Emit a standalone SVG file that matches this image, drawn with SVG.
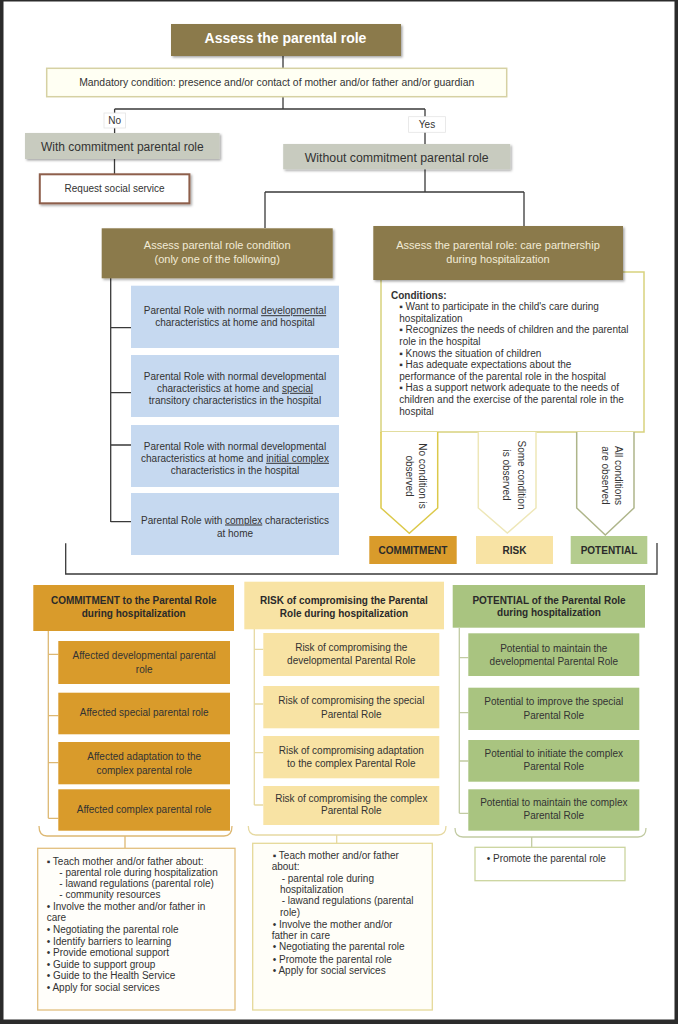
<svg xmlns="http://www.w3.org/2000/svg" width="678" height="1024" viewBox="0 0 678 1024">
<defs>
<style>
text { font-family: "Liberation Sans", Arial, sans-serif; fill: #333; font-size: 10px; }
.c { text-anchor: middle; }
.b { font-weight: bold; }
.hdr { fill: #8B7A4B; }
.hdrt { fill: #F2EBD6; font-size: 11px; }
.gray { fill: #C8CBBF; }
.blue { fill: #C6D9F0; }
.org { fill: #D99B2B; }
.yel { fill: #F8E3A4; }
.grn { fill: #A9C480; }
.ln { stroke: #3a3a3a; stroke-width: 1.3; fill: none; }
.lo { stroke: #DDB873; stroke-width: 1.3; fill: none; }
.ly { stroke: #E6D9A2; stroke-width: 1.3; fill: none; }
.lg { stroke: #C2CBA3; stroke-width: 1.3; fill: none; }
.u { text-decoration: underline; }
</style>
<filter id="sh" x="-10%" y="-10%" width="130%" height="140%">
<feDropShadow dx="1.5" dy="1.5" stdDeviation="1" flood-color="#000" flood-opacity="0.35"/>
</filter>
</defs>
<rect width="678" height="1024" fill="#fff"/>
<g id="frame" fill="#2b2b2b">
<rect x="0" y="0" width="678" height="1.5"/>
<rect x="0" y="0" width="3.5" height="1024"/>
<rect x="674.5" y="0" width="3.5" height="1024"/>
<rect x="0" y="1019.5" width="678" height="4.5"/>
</g>

<g id="connectors">
<path class="ln" d="M283,56 V68 M283,97 V109 M114.6,109 H425 M114.6,109 V133 M425,109 V144 M114.5,159 V174 M425,169 V192 M265,192 H524 M265,192 V228 M524,192 V226"/>
<path class="ln" d="M110.7,278 V522 M110.7,327.7 H131 M110.7,392.7 H131 M110.7,445 H131 M110.7,521.7 H131"/>
<path class="ln" d="M65.7,543.3 V574 H657 V543" stroke="#444"/>
<path class="lo" d="M48.3,631 V818.3 M48.3,654.3 H58.3 M48.3,715.7 H58.3 M48.3,762.7 H58.3 M48.3,818.3 H58.3"/>
<path class="ly" d="M254.3,629 V805 M254.3,649.3 H263.3 M254.3,704 H263.3 M254.3,752.7 H263.3 M254.3,805 H263.3"/>
<path class="lg" d="M459.3,628 V813.3 M459.3,657.7 H468.3 M459.3,712.7 H468.3 M459.3,761 H468.3 M459.3,813.3 H468.3"/>
<path class="lo" d="M39,826 Q39,836 47,836 H224 Q232,836 232,826 M125,836 V848.3"/>
<path class="ly" d="M248.3,826 Q248.3,835 256,835 H438 Q446,835 446,826 M336.7,835 V843.3"/>
<path class="lg" d="M455,828 Q455,837 463,837 H638 Q646,837 646,828 M531.7,837 V847.3"/>
</g>

<g id="n-assess">
<rect x="171" y="24" width="230" height="32" class="hdr" filter="url(#sh)"/>
<text x="285.5" y="42.5" class="c b" style="fill:#fff;font-size:14px">Assess the parental role</text>
</g>
<g id="n-mandatory">
<rect x="46.7" y="68.3" width="460" height="28.4" fill="#FFFFF3" stroke="#D6D1A3" stroke-width="1.5"/>
<text x="276.7" y="86.3" class="c" style="font-size:10.4px">Mandatory condition: presence and/or contact of mother and/or father and/or guardian</text>
</g>
<g id="l-no">
<rect x="104" y="113" width="21.4" height="15" fill="#fff" stroke="#E4E4E4" stroke-width="0.8"/>
<text x="114.6" y="123.5" class="c">No</text>
</g>
<g id="l-yes">
<rect x="408.6" y="116.7" width="36.8" height="15.6" fill="#fff" stroke="#E4E4E4" stroke-width="0.8"/>
<text x="427" y="128.3" class="c">Yes</text>
</g>
<g id="n-with">
<rect x="25" y="133" width="194.6" height="26" class="gray" filter="url(#sh)"/>
<text x="122.3" y="150.8" class="c" style="font-size:12px">With commitment parental role</text>
</g>
<g id="n-without">
<rect x="283.2" y="144" width="227" height="25.3" class="gray" filter="url(#sh)"/>
<text x="396.7" y="161.6" class="c" style="font-size:12.3px">Without commitment parental role</text>
</g>
<g id="n-request">
<rect x="39.8" y="174.3" width="149.6" height="29" fill="#fff" stroke="#8E5F4B" stroke-width="2" filter="url(#sh)"/>
<text x="114.6" y="191.5" class="c">Request social service</text>
</g>

<g id="n-assess-condition">
<rect x="101.7" y="228.3" width="231" height="50" class="hdr" filter="url(#sh)"/>
<text x="217.2" y="249" class="c hdrt">Assess parental role condition</text>
<text x="217.2" y="263.3" class="c hdrt">(only one of the following)</text>
</g>

<g id="n-blue1">
<rect x="131" y="285.7" width="208" height="62.3" class="blue"/>
<text x="235" y="314.2" class="c">Parental Role with normal <tspan class="u">developmental</tspan></text>
<text x="235" y="326.2" class="c">characteristics at home and hospital</text>
</g>
<g id="n-blue2">
<rect x="131" y="355" width="208" height="62" class="blue"/>
<text x="235" y="380.2" class="c">Parental Role with normal developmental</text>
<text x="235" y="391.8" class="c">characteristics at home and <tspan class="u">special</tspan></text>
<text x="235" y="403.5" class="c">transitory characteristics in the hospital</text>
</g>
<g id="n-blue3">
<rect x="131" y="425" width="208" height="62" class="blue"/>
<text x="235" y="450.2" class="c">Parental Role with normal developmental</text>
<text x="235" y="461.8" class="c">characteristics at home and <tspan class="u">initial complex</tspan></text>
<text x="235" y="473.5" class="c">characteristics in the hospital</text>
</g>
<g id="n-blue4">
<rect x="131" y="493" width="208" height="62" class="blue"/>
<text x="235" y="523.5" class="c">Parental Role with <tspan class="u">complex</tspan> characteristics</text>
<text x="235" y="536.8" class="c">at home</text>
</g>

<g id="n-conditions">
<rect x="381" y="272" width="263" height="160" fill="#fff" stroke="#D8D27E" stroke-width="1.5"/>
<text x="391" y="298.5" class="b">Conditions:</text>
<text x="399.3" y="310.1">▪ Want to participate in the child's care during</text>
<text x="399.3" y="321.7">hospitalization</text>
<text x="399.3" y="333.3">▪ Recognizes the needs of children and the parental</text>
<text x="399.3" y="344.9">role in the hospital</text>
<text x="399.3" y="356.5">▪ Knows the situation of children</text>
<text x="399.3" y="368.1">▪ Has adequate expectations about the</text>
<text x="399.3" y="379.7">performance of the parental role in the hospital</text>
<text x="399.3" y="391.3">▪ Has a support network adequate to the needs  of</text>
<text x="399.3" y="402.9">children and the exercise of the parental role in the</text>
<text x="399.3" y="414.5">hospital</text>
</g>
<g id="n-assess-partnership">
<rect x="373.3" y="226" width="249.7" height="54" class="hdr" filter="url(#sh)"/>
<text x="498" y="249" class="c hdrt">Assess the parental role: care partnership</text>
<text x="498" y="263.3" class="c hdrt">during hospitalization</text>
</g>

<g id="a-none">
<path d="M381,432 V508 L409.3,533.3 L437.7,508 V432" fill="#fff" stroke="#DCC94A" stroke-width="1.5"/>
<g transform="translate(409.3,476) rotate(90)">
<text x="0" y="-9.5" class="c">No condition is</text>
<text x="0" y="3.5" class="c">observed</text>
</g>
</g>
<g id="a-some">
<path d="M478.3,432 V508 L507.3,533 L536,508 V432" fill="#fff" stroke="#EEE7B8" stroke-width="1.5"/>
<g transform="translate(507.3,475) rotate(90)">
<text x="0" y="-10.5" class="c">Some condition</text>
<text x="0" y="3.8" class="c">is observed</text>
</g>
</g>
<g id="a-all">
<path d="M576.7,432 V508 L605.3,535 L634,508 V432" fill="#fff" stroke="#AEB58A" stroke-width="1.5"/>
<g transform="translate(605.3,475.5) rotate(90)">
<text x="0" y="-10" class="c">All conditions</text>
<text x="0" y="3.5" class="c">are observed</text>
</g>
</g>

<g id="n-commitment">
<rect x="369.3" y="536" width="87.4" height="28" class="org"/>
<text x="413" y="553.5" class="c b" style="fill:#2a2a2a">COMMITMENT</text>
</g>
<g id="n-risk">
<rect x="476" y="536" width="77" height="28" class="yel"/>
<text x="514.5" y="553.5" class="c b" style="fill:#2a2a2a">RISK</text>
</g>
<g id="n-potential">
<rect x="570.7" y="536" width="76.6" height="28" fill="#B4CC8E"/>
<text x="609" y="553.5" class="c b" style="fill:#2a2a2a">POTENTIAL</text>
</g>

<g id="n-commitment-hdr">
<rect x="33.3" y="585" width="200.7" height="46" class="org"/>
<text x="133.7" y="604.2" class="c b" style="fill:#2a2a2a">COMMITMENT to the Parental Role</text>
<text x="133.7" y="616.8" class="c b" style="fill:#2a2a2a">during hospitalization</text>
</g>
<g id="n-c1">
<rect x="58.3" y="641" width="171.7" height="43" class="org"/>
<text x="144.2" y="659.3" class="c">Affected developmental parental</text>
<text x="144.2" y="672.6" class="c">role</text>
</g>
<g id="n-c2">
<rect x="58.3" y="692.7" width="171.7" height="41.6" class="org"/>
<text x="144.2" y="716.3" class="c">Affected special parental role</text>
</g>
<g id="n-c3">
<rect x="58.3" y="742" width="171.7" height="42.3" class="org"/>
<text x="144.2" y="759.6" class="c">Affected adaptation to the</text>
<text x="144.2" y="773.6" class="c">complex parental role</text>
</g>
<g id="n-c4">
<rect x="58.3" y="789.3" width="171.7" height="41.4" class="org"/>
<text x="144.2" y="813" class="c">Affected complex parental role</text>
</g>

<g id="n-risk-hdr">
<rect x="244.3" y="581.7" width="199.7" height="47.6" class="yel"/>
<text x="344" y="604.2" class="c b" style="fill:#2a2a2a">RISK of compromising the Parental</text>
<text x="344" y="616.8" class="c b" style="fill:#2a2a2a">Role during hospitalization</text>
</g>
<g id="n-r1">
<rect x="263.3" y="633" width="176" height="43" class="yel"/>
<text x="351.3" y="651" class="c">Risk of compromising the</text>
<text x="351.3" y="663.6" class="c">developmental Parental Role</text>
</g>
<g id="n-r2">
<rect x="263.3" y="686" width="176" height="42.3" class="yel"/>
<text x="351.3" y="704.3" class="c">Risk of compromising the special</text>
<text x="351.3" y="717.6" class="c">Parental Role</text>
</g>
<g id="n-r3">
<rect x="263.3" y="736" width="176" height="42.3" class="yel"/>
<text x="351.3" y="754.3" class="c">Risk of compromising adaptation</text>
<text x="351.3" y="767" class="c">to the complex Parental Role</text>
</g>
<g id="n-r4">
<rect x="263.3" y="786" width="176" height="39" class="yel"/>
<text x="351.3" y="802" class="c">Risk of compromising the complex</text>
<text x="351.3" y="814.3" class="c">Parental Role</text>
</g>

<g id="n-potential-hdr">
<rect x="452.7" y="585" width="192.3" height="42.7" class="grn"/>
<text x="549" y="604.2" class="c b" style="fill:#2a2a2a">POTENTIAL of the Parental Role</text>
<text x="549" y="616.2" class="c b" style="fill:#2a2a2a">during hospitalization</text>
</g>
<g id="n-p1">
<rect x="468.3" y="633.3" width="171" height="42.7" class="grn"/>
<text x="553.8" y="652" class="c">Potential to maintain the</text>
<text x="553.8" y="665.3" class="c">developmental Parental Role</text>
</g>
<g id="n-p2">
<rect x="468.3" y="687.7" width="171" height="42.3" class="grn"/>
<text x="553.8" y="705.3" class="c">Potential to improve the special</text>
<text x="553.8" y="718.6" class="c">Parental Role</text>
</g>
<g id="n-p3">
<rect x="468.3" y="740" width="171" height="41.7" class="grn"/>
<text x="553.8" y="757" class="c">Potential to initiate the complex</text>
<text x="553.8" y="770.3" class="c">Parental Role</text>
</g>
<g id="n-p4">
<rect x="468.3" y="789.3" width="171" height="41.4" class="grn"/>
<text x="553.8" y="806" class="c">Potential to maintain the complex</text>
<text x="553.8" y="819.3" class="c">Parental Role</text>
</g>

<g id="n-commitment-list">
<rect x="37.7" y="848.3" width="197.3" height="161.7" fill="#FFFEFA" stroke="#E2BF7E" stroke-width="1.3"/>
<text x="46.7" y="865.2">▪ Teach mother and/or father about:</text>
<text x="59.3" y="875.8">- parental role during hospitalization</text>
<text x="59.3" y="886.8">- lawand regulations (parental role)</text>
<text x="59.3" y="897.8">- community resources</text>
<text x="46.7" y="910.2">• Involve the mother and/or father in</text>
<text x="46.7" y="920.8">care</text>
<text x="46.7" y="932.5">• Negotiating the parental role</text>
<text x="46.7" y="944.5">• Identify barriers to learning</text>
<text x="46.7" y="956.2">• Provide emotional support</text>
<text x="46.7" y="967.8">• Guide to support group</text>
<text x="46.7" y="979.2">• Guide to the Health Service</text>
<text x="46.7" y="990.8">• Apply for social services</text>
</g>
<g id="n-risk-list">
<rect x="252.7" y="843.3" width="179.6" height="166.7" fill="#FFFEF8" stroke="#E5D999" stroke-width="1.3"/>
<text x="272.7" y="858.5">▪ Teach mother and/or father</text>
<text x="271.7" y="869.5">about:</text>
<text x="281.7" y="881.8">- parental role during</text>
<text x="280" y="892.8">hospitalization</text>
<text x="281.7" y="904.2">- lawand regulations (parental</text>
<text x="280" y="915.8">role)</text>
<text x="272.7" y="927.8">• Involve the mother and/or</text>
<text x="271.7" y="939.2">father in care</text>
<text x="272.7" y="950.2">• Negotiating the parental role</text>
<text x="272.7" y="962.5">• Promote the parental role</text>
<text x="272.7" y="974.2">• Apply for social services</text>
</g>
<g id="n-potential-list">
<rect x="475" y="847.3" width="150" height="33.4" fill="#fff" stroke="#CBD49E" stroke-width="1.3"/>
<text x="486.7" y="861.8">• Promote the parental role</text>
</g>
</svg>
